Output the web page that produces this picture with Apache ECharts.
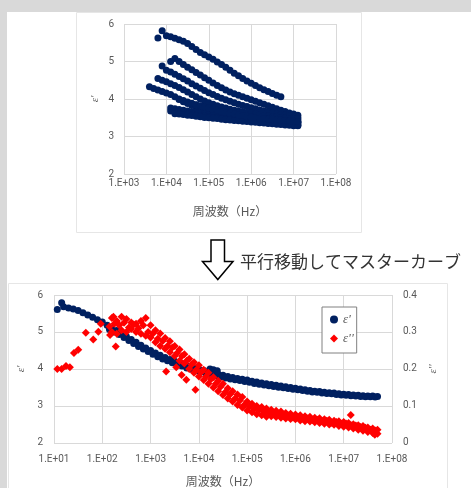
<!DOCTYPE html>
<html><head><meta charset="utf-8">
<script src="https://cdn.jsdelivr.net/npm/echarts@6/dist/echarts.min.js"></script>
<style>html,body{margin:0;padding:0;background:#fff;}#c{width:471px;height:488px;}</style>
</head><body><div id="c"></div>
<script>
// ---------- top chart: raw curves (ε' vs frequency) ----------
const freqTop = [3981, 5012, 6310, 7943, 1e4, 12589, 15849, 19953, 25119, 31623, 39811, 50119, 63096, 79433,
  1e5, 125893, 158489, 199526, 251189, 316228, 398107, 501187, 630957, 794328,
  1e6, 1258925, 1584893, 1995262, 2511886, 3162278, 3981072, 5011872, 6309573, 7943282, 1e7, 12589254];
const curveA = [null,null,5.63,5.82,5.69,5.66,5.62,5.58,5.54,5.48,5.40,5.32,5.24,5.18,5.12,5.06,4.99,4.92,4.85,4.77,4.69,4.62,4.55,4.48,4.42,4.36,4.30,4.25,4.20,4.15,4.10,4.06,null,null,null,null];
const curveB = [null,null,null,null,null,5.00,5.08,5.00,4.92,4.85,4.78,4.71,4.64,4.57,4.50,4.43,4.36,4.30,4.24,4.19,4.14,4.10,4.06,4.02,3.98,3.94,3.90,3.86,3.82,3.78,3.74,3.70,3.67,3.63,3.60,3.57];
const curveC = [null,null,null,4.88,4.77,4.72,4.66,4.60,4.54,4.48,4.41,4.35,4.29,4.23,4.17,4.12,4.07,4.02,3.98,3.94,3.90,3.86,3.83,3.80,3.77,3.74,3.71,3.68,3.66,3.63,3.61,3.59,3.57,3.55,3.53,3.51];
const curveD = [null,null,4.55,4.50,4.46,4.41,4.36,4.31,4.25,4.19,4.12,4.06,4.00,3.95,3.90,3.86,3.82,3.79,3.76,3.73,3.70,3.68,3.66,3.64,3.62,3.60,3.58,3.56,3.55,3.53,3.52,3.50,3.49,3.48,3.47,3.46];
const curveE = [4.33,4.28,4.24,4.20,4.16,4.12,4.06,3.99,3.93,3.88,3.83,3.79,3.75,3.72,3.69,3.66,3.64,3.62,3.60,3.58,3.56,3.55,3.53,3.52,3.50,3.49,3.48,3.47,3.46,3.45,3.44,3.43,3.42,3.41,3.40,3.39];
const curveF = [null,null,null,null,null,null,null,4.00,3.96,3.92,3.88,3.84,3.80,3.77,3.74,3.71,3.68,3.65,3.62,3.60,3.58,3.56,3.54,3.52,3.50,3.49,3.47,3.46,3.45,3.44,3.43,3.42,3.41,3.40,3.39,3.38];
const curveG = [null,null,null,null,null,3.76,3.74,3.72,3.70,3.68,3.66,3.64,3.62,3.60,3.58,3.56,3.55,3.53,3.52,3.50,3.49,3.48,3.47,3.46,3.45,3.44,3.43,3.42,3.41,3.40,3.39,3.38,3.37,3.36,3.35,3.34];
const curveH = [null,null,null,null,null,3.68,3.66,3.64,3.62,3.60,3.58,3.57,3.55,3.54,3.52,3.51,3.50,3.48,3.47,3.46,3.45,3.44,3.43,3.42,3.41,3.40,3.39,3.38,3.37,3.36,3.35,3.34,3.33,3.32,3.31,3.30];
const curveI = [null,null,null,null,null,null,3.61,3.60,3.59,3.57,3.56,3.54,3.53,3.51,3.50,3.49,3.48,3.46,3.45,3.44,3.43,3.42,3.41,3.40,3.39,3.38,3.37,3.36,3.35,3.34,3.33,3.32,3.31,3.30,3.29,3.29];
const curveJ = [null,null,null,null,null,null,null,null,null,null,3.88,3.85,3.82,3.79,3.76,3.73,3.70,3.67,3.64,3.62,3.60,3.58,3.56,3.54,3.52,3.51,3.49,3.48,3.47,3.46,3.45,3.44,3.43,3.42,3.41,3.40];

// ---------- bottom chart: master curve ----------
const freqA = [11.7,14.4,15.8,20,25.1,31.6,39.8,50.1,63.1,79.4,
  100,126,158,200,251,316,398,501,631,794,
  1000,1260,1580,2000,2510,3160,3980,5010,6310,7940,
  1e4,1.26e4,1.58e4,2e4,2.51e4,3.16e4,3.98e4,5.01e4,6.31e4,7.94e4,
  1e5,1.26e5,1.58e5,2e5,2.51e5,3.16e5,3.98e5,5.01e5,6.31e5,7.94e5,
  1e6,1.26e6,1.58e6,2e6,2.51e6,3.16e6,3.98e6,5.01e6,6.31e6,7.94e6,
  1e7,1.26e7,1.58e7,2e7,2.51e7,3.16e7,3.98e7,5.01e7];
const freqB = [141,178,224,282,355,447,562,708,891,
  1120,1410,1780,2240,2820,3550,4470,5620,7080,8910,
  1.12e4,1.41e4,1.78e4,2.24e4,2.82e4,3.55e4,4.47e4,5.62e4,7.08e4,8.91e4,
  1.12e5,1.41e5,1.78e5,2.24e5,2.82e5,3.55e5,4.47e5,5.62e5,7.08e5,8.91e5,
  1.12e6,1.41e6,1.78e6,2.24e6,2.82e6,3.55e6,4.47e6,5.62e6,7.08e6,8.91e6,
  1.12e7,1.41e7,1.78e7,2.24e7,2.82e7,3.55e7,4.47e7];
const epsRealA = [5.61,5.79,5.68,5.65,5.62,5.58,5.52,5.46,5.40,5.33,
  5.27,5.18,5.10,5.04,4.96,4.88,4.80,4.72,4.64,4.57,
  4.50,4.43,4.37,4.31,4.26,4.21,4.16,4.12,4.07,4.03,
  3.99,3.96,3.92,3.89,3.86,3.83,3.80,3.77,3.74,3.72,
  3.70,3.67,3.65,3.62,3.60,3.58,3.56,3.54,3.52,3.50,
  3.48,3.46,3.44,3.42,3.40,3.39,3.37,3.36,3.35,3.33,
  3.32,3.31,3.30,3.29,3.28,3.27,3.27,3.26];
const epsRealB = [5.07,5.00,4.93,4.85,4.77,4.69,4.61,4.54,4.47,
  4.40,4.33,4.27,4.22,4.17,4.12,4.08,4.03,3.99,3.95,
  3.92,3.88,3.85,3.82,3.79,3.76,3.73,3.71,3.69,3.66,
  3.64,3.61,3.59,3.57,3.55,3.53,3.51,3.49,3.47,3.45,
  3.44,3.42,3.40,3.38,3.37,3.35,3.34,3.33,3.31,3.30,
  3.29,3.28,3.27,3.26,3.25,3.25,3.24];
const epsRealExtra = [[1.7e4,4.00],[2.0e4,3.98],[2.4e4,3.95]];
const epsImagUpper = [null,null,null,null,null,null,null,null,null,null,null,null,
  0.338,0.330,0.341,0.335,0.326,0.322,0.330,0.338,
  0.318,0.305,0.296,0.284,0.275,0.262,0.253,0.240,0.228,0.218,
  0.210,0.198,0.190,0.178,0.168,0.160,0.148,0.140,0.131,0.124,
  0.112,0.106,0.100,0.097,0.093,0.090,0.087,0.085,0.081,0.079,
  0.077,0.075,0.072,0.071,0.068,0.067,0.064,0.063,0.060,0.059,
  0.057,0.054,0.051,0.048,0.046,0.042,0.039,0.036];
const epsImagLower = [null,null,null,null,null,null,null,null,null,null,null,null,
  0.300,0.295,0.305,0.300,0.308,0.300,0.295,0.290,
  0.285,0.272,0.262,0.255,0.245,0.235,0.222,0.215,0.200,0.190,
  0.180,0.170,0.160,0.150,0.140,0.130,0.120,0.112,0.103,0.096,
  0.088,0.083,0.078,0.075,0.071,0.072,0.070,0.068,0.066,0.065,
  0.064,0.061,0.059,0.058,0.056,0.054,0.052,0.050,0.049,0.046,
  0.044,0.042,0.039,0.036,0.033,0.030,0.027,0.025];
const epsImagMid = [0.315,0.322,0.318,0.325,0.312,0.320,0.310,0.318,0.300,
  0.296,0.282,0.276,0.262,0.258,0.243,0.235,0.222,0.212,0.198,
  0.192,0.180,0.172,0.160,0.152,0.138,0.132,0.120,0.115,0.104,
  0.098,0.092,0.090,0.084,0.083,0.078,0.078,0.073,0.074,0.069,
  0.070,0.066,0.066,0.062,0.063,0.059,0.060,0.055,0.057,0.052,
  0.053,0.048,0.047,0.043,0.041,0.036,0.034];
const epsImagLow = [[11.7,0.200],[14.4,0.200],[17.7,0.208],[21.3,0.205],[25.9,0.243],[31.8,0.252],
  [45.6,0.298],[65,0.280],[83,0.301],[93,0.322],[145,0.292],[170,0.341],[190,0.261]];
const epsImagOut = [[2.1e3,0.193],[3.4e3,0.205],[4.4e3,0.184],[5.5e3,0.171],[8.5e3,0.144],[1.4e7,0.076],[4.4e7,0.022]];

const xTitle = '周波数（Hz）';
const noteText = '平行移動してマスターカーブ';
const nameReal = "ε'", nameImag = "ε''";

const navy = '#002060', red = '#ff0000', gridC = '#d9d9d9', lab = '#595959';
function zip(fs, vs) { const o = []; fs.forEach((f, i) => { if (vs[i] != null) o.push([f, vs[i]]); }); return o; }
const fmtExp = v => { const e = Math.round(Math.log10(v)); return '1.E+' + (e < 10 ? '0' : '') + e; };
const tickFont = { color: lab, fontSize: 10, fontFamily: 'Roboto' };
const epsFont = { color: lab, fontSize: 11, fontFamily: 'Liberation Serif', fontStyle: 'italic' };

const series = [];
[curveA, curveB, curveC, curveD, curveE, curveF, curveG, curveH, curveI, curveJ].forEach((c, k) => {
  series.push({ type: 'scatter', name: 'T' + k, xAxisIndex: 0, yAxisIndex: 0, data: zip(freqTop, c),
    symbol: 'circle', symbolSize: 7, itemStyle: { color: navy, opacity: 1 } });
});
const realStyle = { type: 'scatter', name: nameReal, xAxisIndex: 1, yAxisIndex: 1, symbol: 'circle', symbolSize: 7, itemStyle: { color: navy, opacity: 1 } };
series.push(Object.assign({}, realStyle, { data: zip(freqA, epsRealA) }));
series.push(Object.assign({}, realStyle, { data: zip(freqB, epsRealB) }));
series.push(Object.assign({}, realStyle, { data: epsRealExtra }));
const imagStyle = { type: 'scatter', name: nameImag, xAxisIndex: 1, yAxisIndex: 2, symbol: 'diamond', symbolSize: 8, itemStyle: { color: red, opacity: 1 } };
series.push(Object.assign({}, imagStyle, { data: epsImagLow }));
series.push(Object.assign({}, imagStyle, { data: zip(freqA, epsImagUpper) }));
series.push(Object.assign({}, imagStyle, { data: zip(freqA, epsImagLower) }));
series.push(Object.assign({}, imagStyle, { data: zip(freqB, epsImagMid) }));
series.push(Object.assign({}, imagStyle, { data: epsImagOut }));

const chart = echarts.init(document.getElementById('c'));
chart.setOption({
  animation: false,
  graphic: [
    { type: 'rect', z: -100, shape: { x: 0, y: 0, width: 471, height: 12 }, style: { fill: '#d9d9d9' } },
    { type: 'rect', z: -100, shape: { x: 0, y: 0, width: 7, height: 488 }, style: { fill: '#d9d9d9' } },
    { type: 'rect', z: -90, shape: { x: 76.5, y: 12.5, width: 285, height: 220 }, style: { fill: '#fff', stroke: '#e6e6e6', lineWidth: 1 } },
    { type: 'rect', z: -90, shape: { x: 8.5, y: 283.5, width: 439, height: 210 }, style: { fill: '#fff', stroke: '#e6e6e6', lineWidth: 1 } },
    { type: 'polygon', z: 50, shape: { points: [[211, 240], [224.5, 240], [224.5, 261.5], [233, 261.5], [217.8, 279.5], [202.5, 261.5], [211, 261.5]] },
      style: { fill: '#fff', stroke: '#000', lineWidth: 1.5 } },
    { type: 'text', z: 50, x: 240, y: 262, style: { text: noteText, fontSize: 17, fontFamily: 'Noto Sans CJK JP', fill: '#333', verticalAlign: 'middle' } }
  ],
  legend: {
    data: [{ name: nameReal, icon: 'circle' }, { name: nameImag, icon: 'diamond' }],
    orient: 'vertical', left: 322, top: 307, padding: [6, 3, 8, 8], itemGap: 6,
    itemWidth: 8, itemHeight: 8, borderColor: '#808080', borderWidth: 1, backgroundColor: '#fff',
    textStyle: { color: lab, fontSize: 13, fontFamily: 'Liberation Serif', fontStyle: 'italic' },
    selectedMode: false
  },
  grid: [
    { left: 124, top: 24, width: 212, height: 150 },
    { left: 54, top: 295, width: 338, height: 148 }
  ],
  xAxis: [
    { gridIndex: 0, type: 'log', logBase: 10, min: 1e3, max: 1e8,
      axisLine: { show: false }, axisTick: { show: false }, minorTick: { show: false },
      splitLine: { show: true, lineStyle: { color: gridC } },
      axisLabel: Object.assign({ formatter: fmtExp, margin: 4 }, tickFont),
      name: xTitle, nameLocation: 'middle', nameGap: 31,
      nameTextStyle: { fontFamily: 'Noto Sans CJK JP', fontSize: 12, color: lab } },
    { gridIndex: 1, type: 'log', logBase: 10, min: 10, max: 1e8,
      axisLine: { show: false }, axisTick: { show: false }, minorTick: { show: false },
      splitLine: { show: true, lineStyle: { color: gridC } },
      axisLabel: Object.assign({ formatter: fmtExp, margin: 12 }, tickFont),
      name: xTitle, nameLocation: 'middle', nameGap: 32,
      nameTextStyle: { fontFamily: 'Noto Sans CJK JP', fontSize: 12, color: lab } }
  ],
  yAxis: [
    { gridIndex: 0, type: 'value', min: 2, max: 6, interval: 1,
      axisLine: { show: false }, axisTick: { show: false },
      splitLine: { show: true, lineStyle: { color: gridC } },
      axisLabel: Object.assign({ margin: 10 }, tickFont),
      name: nameReal, nameLocation: 'middle', nameRotate: 90, nameGap: 23, nameTextStyle: epsFont },
    { gridIndex: 1, type: 'value', min: 2, max: 6, interval: 1,
      axisLine: { show: false }, axisTick: { show: false },
      splitLine: { show: true, lineStyle: { color: gridC } },
      axisLabel: Object.assign({ margin: 11 }, tickFont),
      name: nameReal, nameLocation: 'middle', nameRotate: 90, nameGap: 23, nameTextStyle: epsFont },
    { gridIndex: 1, type: 'value', position: 'right', min: 0, max: 0.4, interval: 0.1,
      axisLine: { show: false }, axisTick: { show: false },
      splitLine: { show: false },
      axisLabel: Object.assign({ margin: 11 }, tickFont),
      name: nameImag, nameLocation: 'middle', nameRotate: 90, nameGap: 30, nameTextStyle: epsFont }
  ],
  series: series
});
</script>
</body></html>
